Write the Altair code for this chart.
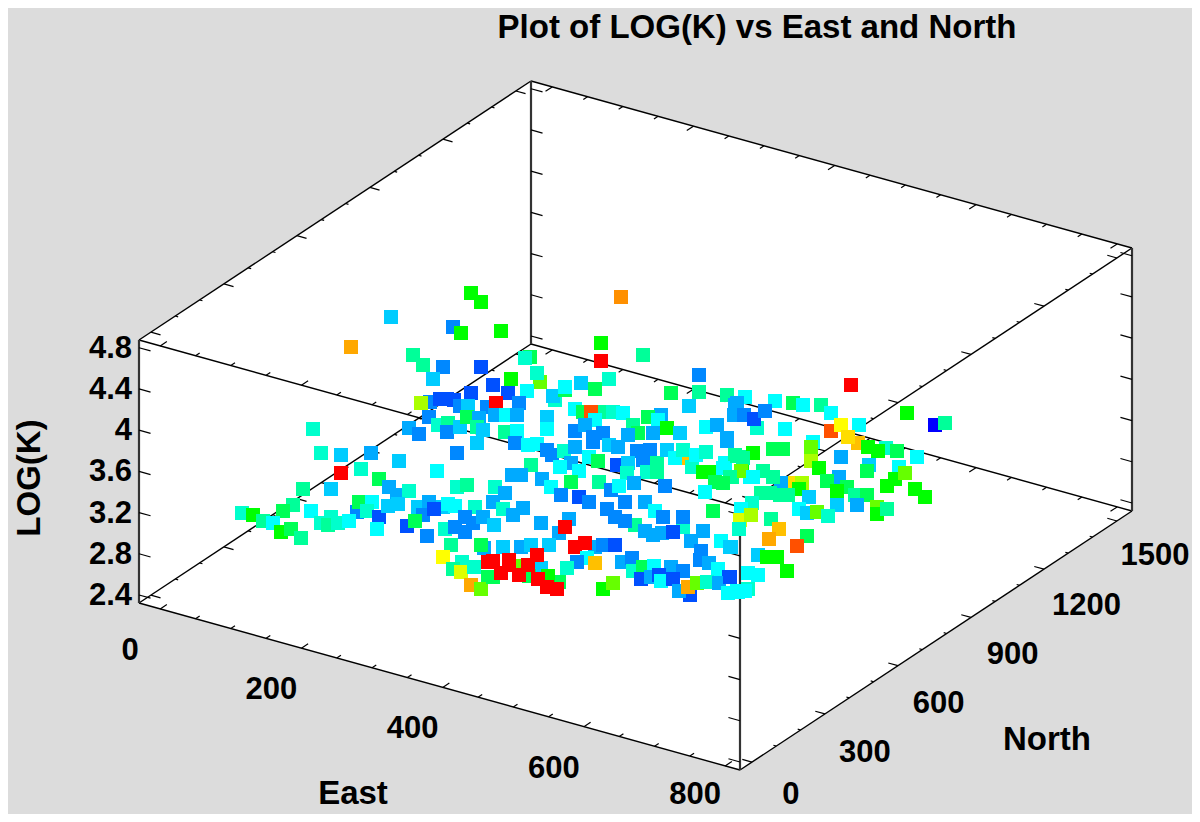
import altair as alt
import pandas as pd

TITLE = "Plot of LOG(K) vs East and North"
BAND_NAMES = ["B0","B1","B2","B3","B4","C","T1","T2","G1","G","L1","L2","Y1","Y","Y2","O0","O1","O2","O3","R"]
BAND_COLORS = ["#0000ff","#0050ff","#0088ff","#00aaff","#00ccff","#00ffff","#00ffcc","#00ff99","#00ff55","#00ff00",
               "#66ff00","#aaff00","#ddff00","#ffff00","#ffdd00","#ffc000","#ffa800","#ff9000","#ff5000","#ff0000"]

# Samples as read in the 3-D view plane: (view x, view y, colour band)
west_back = [
 (471,293,"G"),(481,302,"G"),(391,317,"B4"),(453,327,"B2"),(461,333,"G"),(351,347,"O1"),(413,355,"T2"),(423,365,"T2"),
 (443,367,"B2"),(481,367,"B1"),(433,379,"B4"),(493,385,"B1"),(430,402,"B2"),(440,399,"B1"),(447,399,"B1"),(454,400,"B1"),
 (460,406,"B2"),(471,393,"B1"),(421,403,"L2"),(468,406,"B4"),(487,407,"B2"),(429,417,"B2"),(438,425,"T1"),(448,423,"T2"),
 (447,432,"B2"),(460,427,"B4"),(467,417,"G1"),(479,418,"B3"),(477,427,"T2"),(483,430,"B4"),(409,428,"B3"),(419,434,"B2"),
 (313,429,"T1"),
]
west_front = [
 (321,453,"T1"),(341,455,"B4"),(371,453,"B3"),(361,469,"T1"),(341,473,"R"),(399,461,"B4"),(457,453,"B2"),(477,443,"B4"),
 (437,471,"C"),(379,479,"G1"),(389,487,"B3"),(397,495,"B3"),(409,491,"T1"),(303,489,"T2"),(331,489,"B4"),(457,487,"T1"),
 (467,485,"T2"),(293,505,"T2"),(283,511,"G1"),(311,511,"C"),(357,512,"B2"),(359,502,"G1"),(372,502,"C"),(367,511,"T1"),
 (379,517,"B1"),(377,529,"C"),(388,506,"B4"),(398,504,"B4"),(418,507,"B4"),(429,502,"B3"),(443,507,"B4"),(448,504,"C"),
 (455,506,"C"),(475,507,"T1"),(423,515,"B2"),(434,509,"B1"),(407,526,"B1"),(415,521,"G1"),(427,536,"B2"),(445,529,"T1"),
 (455,527,"B2"),(465,517,"B2"),(473,523,"B2"),(465,532,"B2"),(483,517,"B3"),(242,513,"T1"),(253,515,"G"),(263,521,"T2"),
 (273,523,"C"),(281,532,"G"),(291,529,"G1"),(301,538,"T2"),(331,517,"T1"),(321,523,"T1"),(328,525,"T2"),(338,523,"T1"),
 (349,521,"C"),(484,548,"B3"),(451,545,"T2"),(481,545,"G1"),(443,557,"Y"),(462,562,"T1"),(453,569,"T2"),(461,572,"Y1"),
 (474,567,"T1"),(471,585,"O1"),(488,577,"G1"),(481,589,"L1"),(488,562,"R"),
]
mid_back = [
 (621,297,"O2"),(501,331,"G"),(601,343,"G"),(601,361,"R"),(643,355,"T2"),(530,357,"G1"),(525,358,"T1"),(540,382,"L1"),
 (537,373,"T1"),(511,379,"G"),(508,393,"B1"),(527,391,"C"),(519,403,"B2"),(496,403,"R"),(495,415,"B3"),(506,415,"C"),
 (517,415,"B3"),(555,400,"T1"),(553,396,"B4"),(565,390,"G1"),(565,387,"C"),(581,383,"B4"),(595,389,"G1"),(609,379,"T1"),
 (699,375,"B2"),(671,393,"G1"),(699,392,"T2"),(727,395,"T2"),(745,397,"C"),(737,403,"B3"),(689,406,"B4"),(575,409,"C"),
 (583,412,"G1"),(603,412,"T2"),(613,412,"T1"),(623,413,"C"),(591,412,"O3"),(595,420,"C"),(661,415,"B3"),(648,417,"G1"),
 (658,420,"C"),(547,417,"B4"),(547,429,"C"),(633,425,"T2"),(653,433,"B3"),(638,433,"G1"),(575,431,"B2"),(585,425,"B3"),
 (667,428,"G"),(706,427,"C"),(717,425,"B3"),(505,432,"T2"),(517,431,"C"),(603,433,"B2"),(593,437,"B2"),(680,433,"B4"),
 (628,435,"B3"),(727,438,"B3"),
]
mid_front = [
 (515,443,"B2"),(528,445,"C"),(537,444,"C"),(547,450,"B2"),(552,455,"B2"),(564,451,"T1"),(575,447,"B3"),(593,442,"B2"),
 (609,445,"B4"),(618,447,"B3"),(589,457,"C"),(598,461,"G1"),(637,451,"B2"),(650,450,"B2"),(643,460,"B2"),(657,463,"T2"),
 (571,463,"B3"),(560,467,"C"),(579,471,"C"),(617,465,"B1"),(628,463,"B4"),(531,465,"T2"),(627,473,"T1"),(647,472,"T1"),
 (657,472,"T2"),(667,450,"B4"),(685,458,"O0"),(675,458,"C"),(683,450,"T1"),(692,467,"T1"),(696,455,"C"),(706,452,"T1"),
 (735,455,"T2"),(743,457,"T2"),(725,463,"C"),(703,472,"G"),(713,472,"G"),(742,471,"G"),(715,482,"G1"),(723,483,"T2"),
 (732,477,"T2"),(750,477,"C"),(542,479,"B3"),(512,475,"B3"),(521,475,"B3"),(551,487,"C"),(571,482,"G1"),(599,482,"T2"),
 (611,490,"B2"),(619,486,"C"),(634,483,"B3"),(665,486,"B2"),(705,492,"C"),(495,487,"T1"),(505,493,"B3"),(493,502,"B3"),
 (561,495,"B2"),(579,497,"B1"),(589,502,"B2"),(625,502,"B2"),(645,502,"B3"),(713,511,"G1"),(503,509,"T1"),(523,508,"B3"),
 (513,515,"B3"),(607,509,"B2"),(655,511,"C"),(615,517,"B2"),(635,525,"T2"),(625,521,"B2"),(683,527,"T1"),(663,517,"B2"),
 (683,517,"B2"),(494,525,"B4"),(541,523,"B3"),(569,519,"B3"),(559,533,"B3"),(565,527,"R"),(645,531,"B3"),(653,535,"B3"),
 (662,533,"B3"),(673,532,"B1"),(703,531,"B3"),(691,541,"B3"),(721,541,"C"),(731,547,"B4"),(595,547,"B3"),(603,545,"B2"),
 (615,545,"B1"),(575,547,"R"),(585,543,"R"),(503,547,"B4"),(521,547,"B3"),(531,545,"B4"),(549,545,"B4"),(587,558,"C"),
 (577,562,"B2"),(595,563,"O0"),(622,562,"B3"),(632,558,"B2"),(633,571,"T1"),(643,567,"G1"),(654,566,"C"),(671,567,"B3"),
 (683,571,"B2"),(701,551,"B2"),(700,560,"B2"),(709,563,"B3"),(718,569,"C"),(567,568,"T1"),(541,568,"B4"),(519,566,"L1"),
 (529,576,"G1"),(493,577,"G1"),(559,582,"G1"),(548,576,"G"),(537,555,"R"),(509,560,"R"),(493,561,"R"),(509,565,"R"),
 (528,565,"R"),(501,573,"R"),(519,575,"R"),(538,579,"R"),(547,587,"R"),(557,589,"R"),(603,589,"G"),(613,583,"L1"),
 (641,579,"B1"),(651,577,"B3"),(659,575,"B1"),(661,581,"C"),(673,579,"B1"),(690,595,"B1"),(679,591,"B3"),(688,587,"O1"),
 (697,583,"L1"),(707,582,"T1"),(729,577,"B1"),(719,583,"B3"),(728,593,"C"),(748,589,"T1"),(738,592,"C"),
]
east = [
 (851,385,"R"),(907,413,"G"),(935,425,"B0"),(945,423,"T2"),(775,401,"C"),(793,403,"G1"),(803,405,"C"),(821,405,"T2"),
 (831,413,"C"),(831,431,"O3"),(859,425,"C"),(841,425,"Y"),(858,443,"O0"),(848,437,"Y2"),(735,405,"B3"),(734,415,"B3"),
 (744,415,"B2"),(757,428,"T1"),(754,419,"B1"),(765,411,"B2"),(785,429,"C"),(727,441,"B3"),(868,447,"G"),(886,448,"T1"),
 (878,451,"G"),(897,451,"G1"),(917,457,"C"),(813,442,"C"),(811,447,"L1"),(811,461,"L2"),(753,453,"G"),(735,456,"T2"),
 (743,458,"T2"),(773,449,"G1"),(783,449,"G1"),(841,457,"B3"),(819,468,"G"),(869,465,"B4"),(867,471,"G1"),(899,467,"C"),
 (895,479,"G"),(905,473,"L1"),(887,486,"G"),(915,489,"G"),(925,497,"G"),(794,483,"Y2"),(802,483,"L2"),(781,483,"B3"),
 (799,489,"G"),(741,471,"L1"),(763,471,"T2"),(773,477,"T2"),(753,477,"C"),(723,468,"C"),(730,477,"T2"),(723,483,"G1"),
 (839,477,"B3"),(827,481,"G1"),(847,487,"G1"),(837,491,"G"),(855,495,"T2"),(867,495,"G1"),(761,493,"T2"),(770,493,"T2"),
 (780,495,"T2"),(788,495,"T2"),(809,497,"B4"),(857,505,"B3"),(837,505,"B4"),(752,503,"T1"),(741,509,"C"),(799,509,"C"),
 (807,513,"B4"),(817,512,"L1"),(877,507,"L1"),(877,514,"G"),(887,509,"T2"),(828,516,"T1"),(771,519,"T2"),(740,520,"Y1"),
 (751,515,"L2"),(739,529,"T1"),(779,529,"O0"),(769,539,"O1"),(807,536,"G1"),(797,546,"O3"),(758,555,"B4"),(767,557,"G"),
 (777,557,"G"),(787,571,"G"),(730,547,"B4"),(748,573,"C"),(758,575,"C"),(730,577,"B1"),(737,591,"C"),(745,591,"C"),
]

EAST_TICKS = list(range(0, 801, 50))
EAST_LABELS = [0, 200, 400, 600, 800]
NORTH_TICKS = list(range(0, 1501, 100))
NORTH_LABELS = [0, 300, 600, 900, 1200, 1500]
LOGK_TICKS = [2.4, 2.8, 3.2, 3.6, 4.0, 4.4, 4.8]
LOGK_LABELS = ["2.4", "2.8", "3.2", "3.6", "4", "4.4", "4.8"]

E0, E1 = -30.0, 821.0
N0, N1 = -49.0, 1562.0
Z0, Z1 = 2.322, 4.875


def proj(e, n, z):
    fe = (e - E0) / (E1 - E0)
    fn = (n - N0) / (N1 - N0)
    fz = (z - Z0) / (Z1 - Z0)
    return (139 + 601 * fe + 392 * fn, 603 + 167 * fe - 259 * fn - 263 * fz)


def seg(p, q):
    return {"x": p[0], "y": p[1], "x2": q[0], "y2": q[1]}


def nudge(p, dx, dy):
    return (p[0] + dx, p[1] + dy)


edges = []
for z in (Z0, Z1):
    edges.append(seg(proj(E0, N0, z), proj(E1, N0, z)))
    edges.append(seg(proj(E1, N0, z), proj(E1, N1, z)))
    edges.append(seg(proj(E1, N1, z), proj(E0, N1, z)))
    edges.append(seg(proj(E0, N1, z), proj(E0, N0, z)))
posts = [seg(proj(e, n, Z0), proj(e, n, Z1)) for e, n in ((E0, N0), (E1, N0), (E1, N1), (E0, N1))]

EDIR = (0.963, 0.268)
NDIR = (0.834, -0.551)
ticks = []
for z in (Z0, Z1):
    for e in EAST_TICKS:
        L = 8 if e % 200 == 0 else 5
        p = proj(e, N0, z)
        ticks.append(seg(p, nudge(p, NDIR[0] * L, NDIR[1] * L)))
        p = proj(e, N1, z)
        ticks.append(seg(p, nudge(p, -NDIR[0] * L, -NDIR[1] * L)))
    for n in NORTH_TICKS:
        L = 10 if n % 300 == 0 else 3
        p = proj(E0, n, z)
        ticks.append(seg(p, nudge(p, EDIR[0] * L, EDIR[1] * L)))
        p = proj(E1, n, z)
        ticks.append(seg(p, nudge(p, -EDIR[0] * L, -EDIR[1] * L)))
for z in LOGK_TICKS:
    for e, n, s in ((E0, N0, 1), (E0, N1, 1), (E1, N0, -1), (E1, N1, -1)):
        p = proj(e, n, z)
        ticks.append(seg(p, nudge(p, s * EDIR[0] * 12, s * EDIR[1] * 12)))

left_top, back_top, right_top = proj(E0, N0, Z1), proj(E0, N1, Z1), proj(E1, N1, Z1)
left_low, front_low, right_low = proj(E0, N0, Z0), proj(E1, N0, Z0), proj(E1, N1, Z0)
top_line = lambda x: back_top[1] + (right_top[1] - back_top[1]) * (x - back_top[0]) / (right_top[0] - back_top[0])
low_line = lambda x: left_low[1] + (front_low[1] - left_low[1]) * (x - left_low[0]) / (front_low[0] - left_low[0])
box = [
    {"x": left_top[0], "y": left_top[1], "y2": left_low[1]},
    {"x": back_top[0], "y": back_top[1], "y2": low_line(back_top[0])},
    {"x": front_low[0], "y": top_line(front_low[0]), "y2": front_low[1]},
    {"x": right_top[0], "y": right_top[1], "y2": right_low[1]},
]

labels = []
for e in EAST_LABELS:
    p = proj(e, N0, Z0)
    labels.append({"x": p[0] - 30, "y": min(p[1] + 42, 795), "t": str(e)})
for n in NORTH_LABELS:
    p = proj(E1, n, Z0)
    labels.append({"x": min(p[0] + 39 + n * 0.003, 1155), "y": min(p[1] + 40 - n * 0.003, 795), "t": str(n)})
zlabels = []
for z, t in zip(LOGK_TICKS, LOGK_LABELS):
    p = proj(E0, N0, z)
    zlabels.append({"x": p[0] - 7, "y": p[1] + 1, "t": t})
names = [
    {"x": 757, "y": 28, "t": TITLE},
    {"x": 353, "y": 794, "t": "East"},
    {"x": 1047, "y": 740, "t": "North"},
]

samples = pd.DataFrame(west_back + west_front + mid_back + mid_front + east, columns=["x", "y", "band"])
samples["order"] = range(len(samples))

X = alt.X("x:Q", axis=None, scale=alt.Scale(domain=[8, 1192], nice=False, zero=False))
Y = alt.Y("y:Q", axis=None, scale=alt.Scale(domain=[814, 8], nice=False, zero=False))
FONT = dict(font="Liberation Sans", fontWeight="bold", color="#000000")

white = alt.Chart(pd.DataFrame(box)).mark_area(color="#ffffff", opacity=1, interpolate="linear").encode(x=X, y=Y, y2="y2:Q")
thin = alt.Chart(pd.DataFrame(edges)).mark_rule(color="#000000", strokeWidth=1.4).encode(x=X, y=Y, x2="x2:Q", y2="y2:Q")
thick = alt.Chart(pd.DataFrame(posts)).mark_rule(color="#333333", strokeWidth=2.2).encode(x=X, y=Y, x2="x2:Q", y2="y2:Q")
tickm = alt.Chart(pd.DataFrame(ticks)).mark_rule(color="#000000", strokeWidth=1.2).encode(x=X, y=Y, x2="x2:Q", y2="y2:Q")
pts = alt.Chart(samples).mark_square(size=196, opacity=1, strokeWidth=0).encode(
    x=X, y=Y, order="order:Q",
    color=alt.Color("band:N", legend=None, scale=alt.Scale(domain=BAND_NAMES, range=BAND_COLORS)),
)
tl = alt.Chart(pd.DataFrame(labels)).mark_text(fontSize=31, align="center", baseline="middle", **FONT).encode(x=X, y=Y, text="t:N")
zl = alt.Chart(pd.DataFrame(zlabels)).mark_text(fontSize=31, align="right", baseline="middle", **FONT).encode(x=X, y=Y, text="t:N")
nm = alt.Chart(pd.DataFrame(names)).mark_text(fontSize=33, align="center", baseline="middle", **FONT).encode(x=X, y=Y, text="t:N")
yl = alt.Chart(pd.DataFrame([{"x": 30, "y": 478, "t": "LOG(K)"}])).mark_text(fontSize=33, angle=270, align="center", baseline="middle", **FONT).encode(x=X, y=Y, text="t:N")

chart = alt.layer(white, thin, thick, tickm, pts, tl, zl, nm, yl).properties(
    width=1184, height=806, padding=0, background="#dcdcdc",
    autosize=alt.AutoSizeParams(type="none", contains="content"),
).configure_view(stroke=None)

chart.save("out.html", embed_options={"renderer": "svg", "actions": False})
